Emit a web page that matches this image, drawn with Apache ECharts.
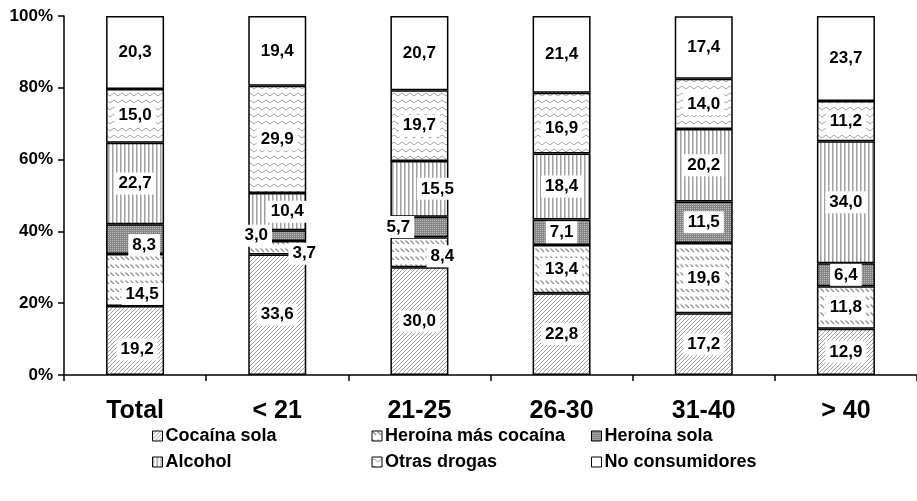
<!DOCTYPE html>
<html>
<head>
<meta charset="utf-8">
<script src="https://cdn.jsdelivr.net/npm/echarts@6/dist/echarts.min.js"></script>
<style>html,body{margin:0;padding:0;background:#fff}#c{width:917px;height:501px}</style>
</head>
<body>
<div id="c"></div>
<script>
var categories = ['Total', '< 21', '21-25', '26-30', '31-40', '> 40'];
var seriesNames = ['Cocaína sola', 'Heroína más cocaína', 'Heroína sola', 'Alcohol', 'Otras drogas', 'No consumidores'];
var cocainaSola = [19.2, 33.6, 30.0, 22.8, 17.2, 12.9];
var heroinaMasCocaina = [14.5, 3.7, 8.4, 13.4, 19.6, 11.8];
var heroinaSola = [8.3, 3.0, 5.7, 7.1, 11.5, 6.4];
var alcohol = [22.7, 10.4, 15.5, 18.4, 20.2, 34.0];
var otrasDrogas = [15.0, 29.9, 19.7, 16.9, 14.0, 11.2];
var noConsumidores = [20.3, 19.4, 20.7, 21.4, 17.4, 23.7];
var yTicks = [0, 20, 40, 60, 80, 100];

var values = [cocainaSola, heroinaMasCocaina, heroinaSola, alcohol, otrasDrogas, noConsumidores];

// label offsets (style only) keyed "series,category"
var labelOffsets = {
  '0,0': [2, 9], '1,0': [7, 14], '2,0': [9, 6],
  '1,1': [27, 6], '2,1': [-21, 0], '3,1': [10, 0],
  '1,2': [23, 4], '2,2': [-21, 0], '3,2': [18, 0],
  '4,3': [0, 5]
};

var FONT = 'Liberation Sans, Arial, sans-serif';

function mk(w, h, draw) {
  var c = document.createElement('canvas');
  c.width = w; c.height = h;
  var g = c.getContext('2d');
  g.fillStyle = '#fff'; g.fillRect(0, 0, w, h);
  draw(g);
  return { image: c, repeat: 'repeat' };
}
var patterns = [
  mk(4, 4, function (g) {
    g.strokeStyle = '#a0a0a0'; g.lineWidth = 1;
    g.beginPath(); g.moveTo(-1, 5); g.lineTo(5, -1); g.stroke();
  }),
  mk(5, 8, function (g) {
    g.strokeStyle = '#909090'; g.lineWidth = 1.2;
    g.beginPath(); g.moveTo(0.5, 0.5); g.lineTo(4, 4); g.stroke();
  }),
  mk(2, 2, function (g) {
    g.fillStyle = '#858585'; g.fillRect(0, 0, 2, 2);
    g.fillStyle = '#bdbdbd'; g.fillRect(0, 0, 1, 1);
  }),
  mk(4, 2, function (g) {
    g.fillStyle = '#a0a0a0'; g.fillRect(0, 0, 1.5, 2);
  }),
  mk(8, 7, function (g) {
    g.strokeStyle = '#a5a5a5'; g.lineWidth = 1;
    g.beginPath(); g.moveTo(0, 3.5); g.quadraticCurveTo(2, 0.5, 4, 3.5); g.quadraticCurveTo(6, 6.5, 8, 3.5); g.stroke();
  }),
  '#ffffff'
];

var series = seriesNames.map(function (name, si) {
  return {
    name: name,
    type: 'bar',
    stack: 'total',
    barWidth: 58,
    itemStyle: { color: patterns[si], borderColor: '#000', borderWidth: 1.5 },
    label: {
      show: true, position: 'inside',
      color: '#000', fontFamily: FONT, fontWeight: 'bold', fontSize: 17,
      backgroundColor: '#fff', padding: [3, 4, 2, 4],
      formatter: function (p) { return p.value.toFixed(1).replace('.', ','); }
    },
    data: values[si].map(function (v, ci) {
      var o = labelOffsets[si + ',' + ci];
      var d = { value: v };
      if (o) d.label = { offset: o };
      return d;
    })
  };
});

var chart = echarts.init(document.getElementById('c'));
chart.setOption({
  animation: false,
  backgroundColor: '#fff',
  grid: { left: 64, right: 0, top: 16, bottom: 126 },
  xAxis: {
    type: 'category', data: categories,
    axisLine: { lineStyle: { color: '#000', width: 1.5 } },
    axisTick: { show: true, length: 6, alignWithLabel: false, lineStyle: { color: '#000', width: 1.5 } },
    axisLabel: { color: '#000', fontFamily: FONT, fontWeight: 'bold', fontSize: 25, margin: 24 }
  },
  yAxis: {
    type: 'value', min: yTicks[0], max: yTicks[yTicks.length - 1], interval: 20,
    axisLine: { show: true, lineStyle: { color: '#000', width: 1.5 } },
    axisTick: { show: true, length: 6, lineStyle: { color: '#000', width: 1.5 } },
    splitLine: { show: false },
    axisLabel: { color: '#000', fontFamily: FONT, fontWeight: 'bold', fontSize: 17, margin: 11, formatter: '{value}%' }
  },
  legend: {
    data: seriesNames,
    left: 147, top: 421, width: 690,
    orient: 'horizontal',
    itemWidth: 10, itemHeight: 10, itemGap: 6,
    icon: 'rect',
    itemStyle: { borderColor: '#000', borderWidth: 1 },
    textStyle: { color: '#000', fontFamily: FONT, fontWeight: 'bold', fontSize: 18, width: 200, lineHeight: 20, padding: [0, 0, 0, -2] }
  },
  series: series
});
</script>
</body>
</html>
